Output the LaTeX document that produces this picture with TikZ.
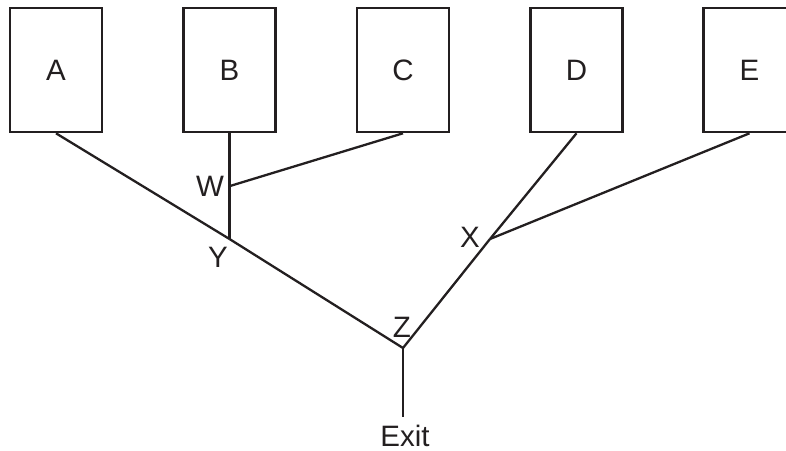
\documentclass[tikz,border=0pt]{standalone}
\usepackage{fontspec}
\setmainfont{Liberation Sans}
\definecolor{ink}{HTML}{231F20}
\begin{document}
\begin{tikzpicture}[x=1pt,y=-1pt,
  box/.style={draw=ink,line width=2.6pt,minimum width=92pt,minimum height=124pt,inner sep=0pt,font=\fontsize{29.5}{34}\selectfont,text=ink},
  wire/.style={draw=ink,line width=2.3pt},
  lbl/.style={inner sep=0pt,font=\fontsize{29.5}{34}\selectfont,text=ink}]
\useasboundingbox (0,0) rectangle (786,450);
\clip (0,0) rectangle (786,450);
\node[box] (A) at (56,70) {A};
\node[box] (B) at (229.5,70) {B};
\node[box] (C) at (403,70) {C};
\node[box] (D) at (576.5,70) {D};
\node[box] (E) at (749.5,70) {E};
\coordinate (W) at (230,186);
\coordinate (Y) at (229.5,239);
\coordinate (X) at (490,239);
\coordinate (Z) at (403,348);
\coordinate (out) at (403,417);
\draw[wire] (A.south) -- (Y);
\draw[wire] (B.south) -- (Y);
\draw[wire] (C.south) -- (W);
\draw[wire] (D.south) -- (X);
\draw[wire] (E.south) -- (X);
\draw[wire] (Y) -- (Z);
\draw[wire] (X) -- (Z);
\draw[wire] (Z) -- (out);
\node[lbl] (Wl) at (210,186) {W};
\node[lbl] (Yl) at (218,257) {Y};
\node[lbl] (Xl) at (470,237) {X};
\node[lbl] (Zl) at (402,327) {Z};
\node[lbl] (Exit) at (405,436) {Exit};
\end{tikzpicture}
\end{document}
